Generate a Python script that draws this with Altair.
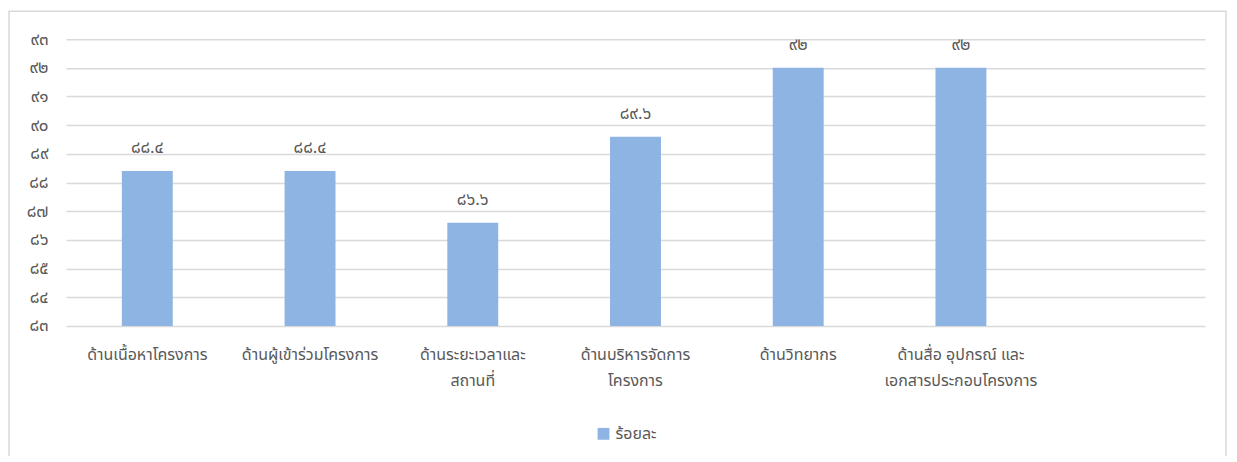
import altair as alt
import pandas as pd

# ---- data ----
category_lines = [
    ["ด้านเนื้อหาโครงการ"],
    ["ด้านผู้เข้าร่วมโครงการ"],
    ["ด้านระยะเวลาและ", "สถานที่"],
    ["ด้านบริหารจัดการ", "โครงการ"],
    ["ด้านวิทยากร"],
    ["ด้านสื่อ อุปกรณ์ และ", "เอกสารประกอบโครงการ"],
]
values = [88.4, 88.4, 86.6, 89.6, 92, 92]
series_name = "ร้อยละ"
y_ticks = [83, 84, 85, 86, 87, 88, 89, 90, 91, 92, 93]
arabic_digits = ["0", "1", "2", "3", "4", "5", "6", "7", "8", "9"]
thai_digits = ["๐", "๑", "๒", "๓", "๔", "๕", "๖", "๗", "๘", "๙"]

FONT = "Noto Sans Thai, Tahoma, Noto Sans, sans-serif"
TXT = "#595959"
GRID = "#d9d9d9"
BAR = "#8eb4e3"


def to_thai(s):
    for a, t in zip(arabic_digits, thai_digits):
        s = s.replace(a, t)
    return s


categories = ["|".join(lines) for lines in category_lines]
x_domain = categories + [" "]  # empty seventh slot, as in the reference

df = pd.DataFrame({
    "category": categories,
    "value": values,
    "label": [to_thai(f"{v:g}") for v in values],
    "series": [series_name] * len(values),
})

# Vega expression converting digits of the tick label into Thai digits
y_label_expr = "datum.label"
for a, t in zip(arabic_digits, thai_digits):
    y_label_expr = f"replace({y_label_expr}, regexp('{a}', 'g'), '{t}')"

W, H = 1140, 287

x_enc = alt.X(
    "category:N",
    scale=alt.Scale(domain=x_domain, paddingInner=0.687, paddingOuter=0.3435),
    sort=None,
    axis=alt.Axis(
        title=None,
        labelAngle=0,
        labelExpr="split(datum.label, '|')",
        labelFont=FONT,
        labelFontSize=16,
        labelColor=TXT,
        labelPadding=21,
        labelLineHeight=26,
        labelBaseline="top",
        labelOverlap=False,
        ticks=False,
        domain=False,
        grid=False,
    ),
)
y_enc = alt.Y(
    "value:Q",
    scale=alt.Scale(domain=[83, 93], zero=False, nice=False),
    axis=alt.Axis(
        title=None,
        values=y_ticks,
        labelExpr=y_label_expr,
        labelFont=FONT,
        labelFontSize=17,
        labelColor=TXT,
        labelPadding=18,
        labelOverlap=False,
        ticks=False,
        domain=False,
        grid=True,
        gridColor=GRID,
        gridWidth=1.5,
    ),
)

bars = alt.Chart(df).mark_bar(clip=True).encode(
    x=x_enc,
    y=y_enc,
    color=alt.Color(
        "series:N",
        scale=alt.Scale(range=[BAR]),
        legend=alt.Legend(
            title=None,
            orient="none",
            legendX=530,
            legendY=387,
            symbolType="square",
            symbolSize=140,
            symbolStrokeWidth=0,
            labelFont=FONT,
            labelFontSize=16,
            labelColor=TXT,
        ),
    ),
)

texts = alt.Chart(df).mark_text(
    baseline="bottom", dy=-14, font=FONT, fontSize=17, color=TXT
).encode(
    x=x_enc,
    y=y_enc,
    text="label:N",
)

frame = alt.Chart(pd.DataFrame({"k": [0]})).mark_rect(
    fill=None, stroke=GRID, strokeWidth=1.5
).encode(
    x=alt.value(-57), x2=alt.value(1161), y=alt.value(-28), y2=alt.value(480)
)

chart = alt.layer(frame, bars, texts).properties(
    width=W,
    height=H,
    background="white",
    autosize=alt.AutoSizeParams(type="none"),
    padding={"left": 58, "top": 31, "right": 24, "bottom": 130},
).configure_view(stroke=None)

chart.save("out.html", embed_options={"renderer": "svg", "actions": False})
